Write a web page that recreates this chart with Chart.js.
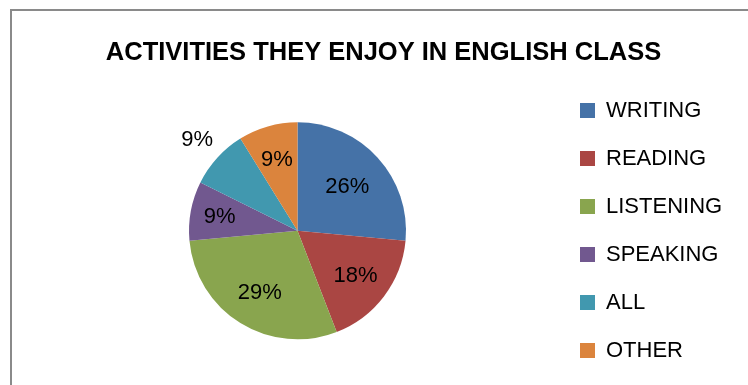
<!DOCTYPE html>
<html>
<head>
<meta charset="utf-8">
<script src="https://cdn.jsdelivr.net/npm/chart.js"></script>
<style>
  html, body { margin: 0; padding: 0; width: 748px; height: 385px; overflow: hidden; background: #ffffff; }
  #wrap { position: relative; width: 748px; height: 385px; overflow: hidden; }
  #c { position: absolute; left: 0; top: 0; }
  #frame { position: absolute; left: 10px; top: 9px; width: 800px; height: 420px;
           border-top: 2px solid #8a8a8a; border-left: 2px solid #8a8a8a; pointer-events: none; }
</style>
</head>
<body>
<div id="wrap">
  <canvas id="c" width="748" height="393"></canvas>
  <div id="frame"></div>
</div>
<script>
// ---- data ----
const chartTitle = 'ACTIVITIES THEY ENJOY IN ENGLISH CLASS';
const categories = ['WRITING', 'READING', 'LISTENING', 'SPEAKING', 'ALL', 'OTHER'];
const responses = [9, 6, 10, 3, 3, 3];          // shown as 26%, 18%, 29%, 9%, 9%, 9%
const sliceColors = ['#4572A7', '#AA4643', '#89A54E', '#71588F', '#4198AF', '#DB843D'];
// label distance from centre as a fraction of the radius (Excel "best fit")
const labelRadiusFactor = [0.62, 0.67, 0.66, 0.73, 1.25, 0.69];

const FONT = "'Liberation Sans', Arial, sans-serif";

const pieLabels = {
  id: 'pieLabels',
  afterDatasetsDraw(chart) {
    const meta = chart.getDatasetMeta(0);
    const data = chart.data.datasets[0].data;
    const total = data.reduce((a, b) => a + b, 0);
    const ctx = chart.ctx;
    ctx.save();
    ctx.font = '22px ' + FONT;
    ctx.fillStyle = '#000000';
    ctx.textAlign = 'center';
    ctx.textBaseline = 'middle';
    meta.data.forEach((arc, i) => {
      const p = arc.getProps(['x', 'y', 'startAngle', 'endAngle', 'outerRadius'], true);
      const mid = (p.startAngle + p.endAngle) / 2;
      const r = p.outerRadius * labelRadiusFactor[i];
      const txt = Math.round(data[i] / total * 100) + '%';
      ctx.fillText(txt, p.x + Math.cos(mid) * r, p.y + Math.sin(mid) * r + 1);
    });
    ctx.restore();
  }
};

new Chart(document.getElementById('c'), {
  type: 'pie',
  data: {
    labels: categories,
    datasets: [{
      data: responses,
      backgroundColor: sliceColors,
      borderWidth: 0
    }]
  },
  options: {
    responsive: false,
    animation: false,
    events: [],
    radius: 108.5,
    layout: { padding: { left: 41, right: 22, top: 0, bottom: 0 } },
    plugins: {
      tooltip: { enabled: false },
      title: {
        display: true,
        text: chartTitle,
        color: '#000000',
        font: { family: FONT, size: 25.5, weight: 'bold', lineHeight: 1.2 },
        padding: { top: 38, bottom: 0 }
      },
      legend: {
        display: true,
        position: 'right',
        align: 'start',
        fullSize: true,
        maxWidth: 172,
        title: { display: true, text: ' ', font: { size: 10, lineHeight: 1.2 }, padding: { top: 61.5, bottom: 0 } },
        labels: {
          boxWidth: 15,
          boxHeight: 15,
          padding: 26,
          color: '#000000',
          font: { family: FONT, size: 22 }
        }
      }
    }
  },
  plugins: [pieLabels]
});
</script>
</body>
</html>
